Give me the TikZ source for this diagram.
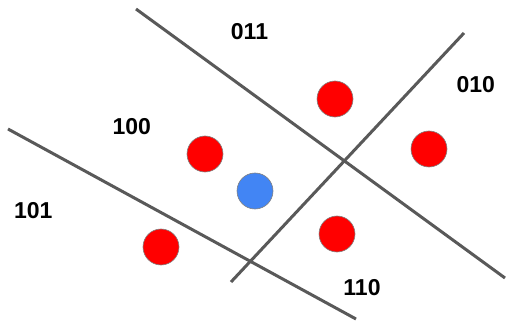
\documentclass[tikz,border=0pt]{standalone}
\usepackage{fontspec}
\setmainfont{Liberation Sans}
\definecolor{linegray}{HTML}{595959}
\definecolor{dotred}{HTML}{FF0000}
\definecolor{dotblue}{HTML}{4285F4}
\begin{document}
\begin{tikzpicture}[x=1pt,y=-1pt,
  sep/.style={draw=linegray,line width=3pt},
  reddot/.style={circle,fill=dotred,draw=gray,line width=0.6pt,minimum size=36pt,inner sep=0pt},
  bluedot/.style={circle,fill=dotblue,draw=gray,line width=0.6pt,minimum size=36pt,inner sep=0pt},
  lab/.style={font=\fontsize{23}{23}\selectfont\bfseries,inner sep=0pt,anchor=center}]
\useasboundingbox (0,0) rectangle (507,321);
\coordinate (a1) at (136,9);
\coordinate (a2) at (505,278);
\coordinate (b1) at (464,33);
\coordinate (b2) at (231,282);
\coordinate (c1) at (8,129);
\coordinate (c2) at (356,319);
\draw[sep] (a1) -- (a2);
\draw[sep] (b1) -- (b2);
\draw[sep] (c1) -- (c2);
\node[reddot] (r1) at (335,99) {};
\node[reddot] (r2) at (429,149) {};
\node[reddot] (r3) at (205,154) {};
\node[reddot] (r4) at (161,247) {};
\node[reddot] (r5) at (337,234) {};
\node[bluedot] (b) at (255,191) {};
\node[lab] (l011) at (249.5,31.3) {011};
\node[lab] (l010) at (475.7,84.7) {010};
\node[lab] (l100) at (131.7,126.7) {100};
\node[lab] (l101) at (33.3,211) {101};
\node[lab] (l110) at (362,288) {110};
\end{tikzpicture}
\end{document}
